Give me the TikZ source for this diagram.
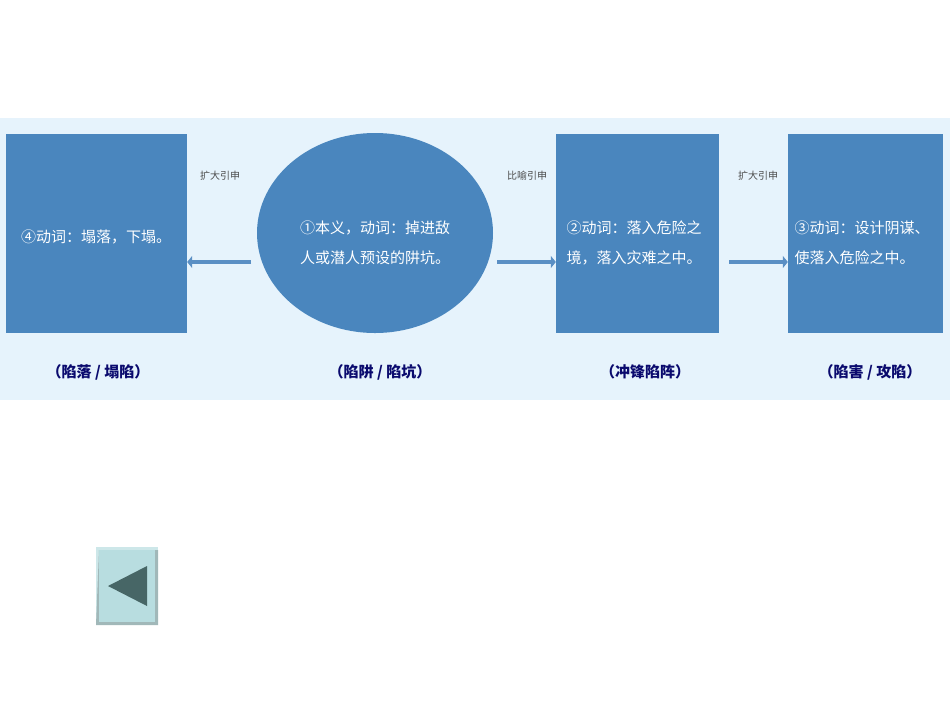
\documentclass[tikz,border=0pt]{standalone}
\usepackage{fontspec}
\newfontfamily\cjk{Noto Sans CJK SC}
\usetikzlibrary{arrows.meta,shapes.geometric}
\definecolor{band}{HTML}{E6F3FC}
\definecolor{boxc}{HTML}{4A86BE}
\definecolor{dark}{HTML}{0A0A6E}
\definecolor{btn}{HTML}{B8DDE0}
\definecolor{arr}{HTML}{5A8FC4}
\tikzset{
  box/.style={fill=boxc,draw=none,text=white,font=\cjk\fontsize{15}{30}\selectfont,align=left,inner sep=0pt},
  lab/.style={text=dark,font=\cjk\bfseries\fontsize{15}{18}\selectfont},
  small/.style={text=gray!60!black,font=\cjk\fontsize{10}{12}\selectfont},
  link/.style={arr,line width=3.5pt,-{Triangle[length=5pt,width=12pt]}}
}
\begin{document}
\begin{tikzpicture}[x=1pt,y=-1pt]
\useasboundingbox (0,0) rectangle (950,713);
\fill[white] (0,0) rectangle (950,713);
\fill[band] (0,118) rectangle (950,400);
\node[box,minimum width=181pt,minimum height=199pt] (b4) at (96.5,233.5) {};
\node[text=white,font=\cjk\fontsize{15}{30}\selectfont] at (96,237) {④动词：塌落，下塌。};
\node[fill=boxc,ellipse,minimum width=236pt,minimum height=200pt,inner sep=0pt] (e1) at (375,233) {};
\node[text=white,font=\cjk\fontsize{15}{30}\selectfont,align=left] at (375,243) {①本义，动词：掉进敌\\人或潜人预设的阱坑。};
\node[box,minimum width=163pt,minimum height=199pt] (b2) at (637.5,233.5) {};
\node[text=white,font=\cjk\fontsize{15}{30}\selectfont,align=left] at (634,243) {②动词：落入危险之\\境，落入灾难之中。};
\node[box,minimum width=155pt,minimum height=199pt] (b3) at (865.5,233.5) {};
\node[text=white,font=\cjk\fontsize{15}{30}\selectfont,align=left] at (862,243) {③动词：设计阴谋、\\使落入危险之中。};
\coordinate (a1) at (251,262);
\coordinate (a2) at (497,262);
\coordinate (a3) at (729,262);
\draw[link] (a1) -- (b4.east |- a1);
\draw[link] (a2) -- (b2.west |- a2);
\draw[link] (a3) -- (b3.west |- a3);
\node[small] (t1) at (220,176) {扩大引申};
\node[small] (t2) at (527,176) {比喻引申};
\node[small] (t3) at (758,176) {扩大引申};
\node[lab] (l4) at (98,372) {（陷落 / 塌陷）};
\node[lab] (l1) at (380,372) {（陷阱 / 陷坑）};
\node[lab] (l2) at (645,372) {（冲锋陷阵）};
\node[lab] (l3) at (870,372) {（陷害 / 攻陷）};
\fill[btn!70!white] (96,547) rectangle (158,625);
\fill[btn!60!gray] (99,550) -- (158,550) -- (158,625) -- (96,625) -- cycle;
\fill[btn] (99,550) rectangle (155,622);
\fill[gray!70!teal!80!black] (108,586) -- (147,566) -- (147,606) -- cycle;
\end{tikzpicture}
\end{document}
